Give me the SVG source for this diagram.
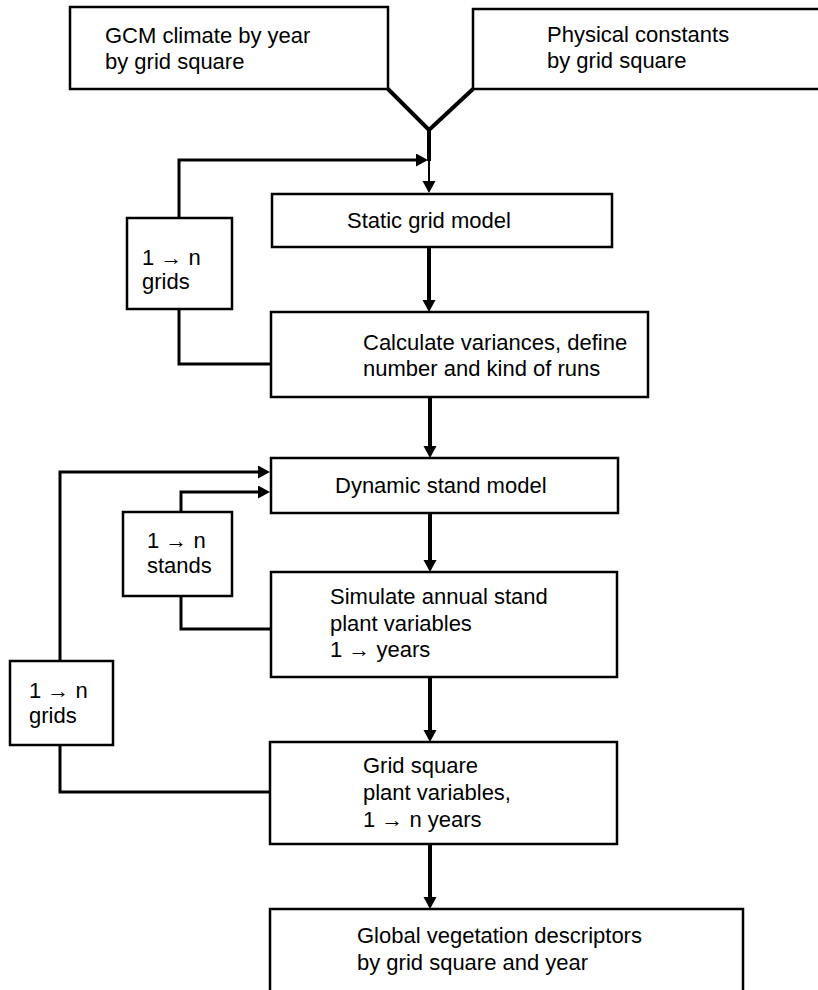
<svg xmlns="http://www.w3.org/2000/svg" width="818" height="990" viewBox="0 0 818 990">
  <style>
    .box { fill: #ffffff; stroke: #000000; stroke-width: 2.5; }
    .lbl { font-family: "Liberation Sans", Arial, sans-serif; font-size: 22px; fill: #000000; }
    .flow { fill: none; stroke: #000000; stroke-width: 4; }
    .loop { fill: none; stroke: #000000; stroke-width: 3; }
    .thin { fill: none; stroke: #000000; stroke-width: 2; }
  </style>
  <defs>
    <marker id="ah" markerUnits="userSpaceOnUse" markerWidth="14" markerHeight="14" refX="8" refY="6.5" orient="auto">
      <path d="M0,0 L12,6.5 L0,13 z" fill="#000000"/>
    </marker>
  </defs>
  <rect width="818" height="990" fill="#ffffff"/>

  <g id="connectors">
    <polyline class="flow" points="388,89 429,130 473,89"/>
    <line class="flow" x1="429" y1="130" x2="429" y2="161"/>
    <line class="thin" x1="429" y1="160" x2="429" y2="189" marker-end="url(#ah)"/>
    <path class="loop" d="M179,218 V160 H424" marker-end="url(#ah)"/>
    <path class="loop" d="M179,309 V364 H271"/>
    <line class="flow" x1="429" y1="247" x2="429" y2="308" marker-end="url(#ah)"/>
    <line class="flow" x1="430" y1="397" x2="430" y2="454" marker-end="url(#ah)"/>
    <path class="loop" d="M60,661 V472 H266" marker-end="url(#ah)"/>
    <path class="loop" d="M181,512 V492 H266" marker-end="url(#ah)"/>
    <path class="loop" d="M181,596 V629 H271"/>
    <line class="flow" x1="430" y1="513" x2="430" y2="568" marker-end="url(#ah)"/>
    <line class="flow" x1="430" y1="677" x2="430" y2="738" marker-end="url(#ah)"/>
    <path class="loop" d="M60,745 V792 H270"/>
    <line class="flow" x1="430" y1="844" x2="430" y2="905" marker-end="url(#ah)"/>
  </g>

  <g id="gcm">
    <rect class="box" x="70" y="7" width="318" height="82"/>
    <text class="lbl" x="105" y="43">GCM climate by year</text>
    <text class="lbl" x="105" y="69">by grid square</text>
  </g>
  <g id="physical">
    <rect class="box" x="473" y="9" width="350" height="80"/>
    <text class="lbl" x="547" y="42">Physical constants</text>
    <text class="lbl" x="547" y="68">by grid square</text>
  </g>
  <g id="static">
    <rect class="box" x="272" y="194" width="340" height="53"/>
    <text class="lbl" x="347" y="228">Static grid model</text>
  </g>
  <g id="grids1">
    <rect class="box" x="127" y="218" width="105" height="91"/>
    <text class="lbl" x="142" y="265">1 → n</text>
    <text class="lbl" x="142" y="289">grids</text>
  </g>
  <g id="calc">
    <rect class="box" x="271" y="312" width="377" height="85"/>
    <text class="lbl" x="363" y="350">Calculate variances, define</text>
    <text class="lbl" x="363" y="376">number and kind of runs</text>
  </g>
  <g id="dynamic">
    <rect class="box" x="271" y="458" width="347" height="55"/>
    <text class="lbl" x="335" y="493">Dynamic stand model</text>
  </g>
  <g id="stands">
    <rect class="box" x="123" y="512" width="109" height="84"/>
    <text class="lbl" x="147" y="548">1 → n</text>
    <text class="lbl" x="147" y="573">stands</text>
  </g>
  <g id="simulate">
    <rect class="box" x="271" y="572" width="346" height="105"/>
    <text class="lbl" x="330" y="604">Simulate annual stand</text>
    <text class="lbl" x="330" y="631">plant variables</text>
    <text class="lbl" x="330" y="657">1 → years</text>
  </g>
  <g id="grids2">
    <rect class="box" x="10" y="661" width="103" height="84"/>
    <text class="lbl" x="29" y="698">1 → n</text>
    <text class="lbl" x="29" y="723">grids</text>
  </g>
  <g id="gridsquare">
    <rect class="box" x="270" y="742" width="347" height="102"/>
    <text class="lbl" x="363" y="773">Grid square</text>
    <text class="lbl" x="363" y="800">plant variables,</text>
    <text class="lbl" x="363" y="827">1 → n years</text>
  </g>
  <g id="global">
    <rect class="box" x="270" y="909" width="473" height="90"/>
    <text class="lbl" x="357" y="943">Global vegetation descriptors</text>
    <text class="lbl" x="357" y="970">by grid square and year</text>
  </g>
</svg>
